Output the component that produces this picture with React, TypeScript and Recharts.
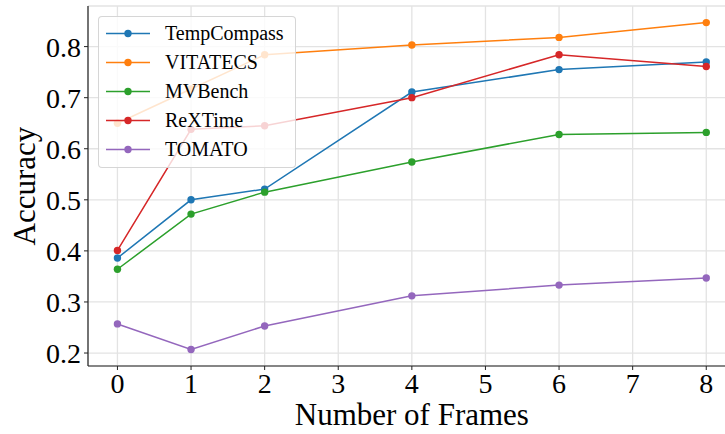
import React from 'react';
import { LineChart, Line, XAxis, YAxis, CartesianGrid, Legend } from 'recharts';

const frames = [0, 1, 2, 4, 6, 8];
const tempCompass = [0.386, 0.5, 0.521, 0.711, 0.755, 0.77];
const vitatecs = [0.65, 0.717, 0.784, 0.803, 0.818, 0.847];
const mvBench = [0.364, 0.472, 0.515, 0.574, 0.628, 0.632];
const rexTime = [0.401, 0.638, 0.645, 0.7, 0.784, 0.761];
const tomato = [0.257, 0.207, 0.253, 0.312, 0.333, 0.347];

const xTicks = [0, 1, 2, 3, 4, 5, 6, 7, 8];
const yTicks = [0.2, 0.3, 0.4, 0.5, 0.6, 0.7, 0.8];

const seriesNames = ['TempCompass', 'VITATECS', 'MVBench', 'ReXTime', 'TOMATO'];
const seriesKeys = ['tc', 'vt', 'mv', 'rx', 'tm'];
const seriesColors = ['#1f77b4', '#ff7f0e', '#2ca02c', '#d62728', '#9467bd'];
const seriesValues = [tempCompass, vitatecs, mvBench, rexTime, tomato];

const data = frames.map((f, i) => {
  const row: any = { frames: f };
  seriesKeys.forEach((k, j) => {
    row[k] = seriesValues[j][i];
  });
  return row;
});

const FONT = '"Liberation Serif", "Times New Roman", serif';

const YLabel = (props: any) => {
  const vb = props.viewBox || {};
  const cy = vb.y + vb.height / 2;
  const x = 35;
  return (
    <text
      x={x}
      y={cy}
      transform={`rotate(-90, ${x}, ${cy})`}
      textAnchor="middle"
      fontSize={31}
      fontFamily={FONT}
      fill="#000"
    >
      Accuracy
    </text>
  );
};

const renderLegend = () => (
  <div
    style={{
      width: 198,
      height: 152,
      boxSizing: 'border-box',
      background: 'rgba(255,255,255,0.8)',
      border: '1px solid rgba(204,204,204,0.8)',
      borderRadius: 4,
      paddingTop: 2,
      fontFamily: FONT,
    }}
  >
    {seriesNames.map((name, i) => (
      <div key={name} style={{ height: 29, display: 'flex', alignItems: 'center', position: 'relative' }}>
        <svg width={60} height={29} style={{ position: 'absolute', left: 0, top: 0 }}>
          <line x1={7} y1={14.5} x2={51} y2={14.5} stroke={seriesColors[i]} strokeWidth={1.5} />
          <circle cx={29} cy={14.5} r={3.7} fill={seriesColors[i]} />
        </svg>
        <span style={{ position: 'absolute', left: 66, fontSize: 20, color: '#000', lineHeight: '29px', top: 0 }}>
          {name}
        </span>
      </div>
    ))}
  </div>
);

export default function App() {
  return (
    <div style={{ position: 'absolute', left: 0, top: 0, width: 725, height: 434, overflow: 'hidden', background: '#fff' }}>
      <LineChart width={740} height={434} data={data} margin={{ top: 6, right: 4.3, bottom: 0, left: 0 }}>
        <CartesianGrid stroke="#e3e3e3" strokeWidth={1.3} />
        <XAxis
          dataKey="frames"
          type="number"
          domain={[-0.4, 8.4]}
          ticks={xTicks}
          allowDataOverflow
          height={68}
          tickSize={4}
          tickMargin={3}
          stroke="#222"
          tick={{ fill: '#000', fontSize: 28, fontFamily: FONT }}
          axisLine={{ stroke: '#222', strokeWidth: 1.2 }}
          tickLine={{ stroke: '#222' }}
          label={{ value: 'Number of Frames', position: 'insideBottom', offset: 9, fontSize: 31, fontFamily: FONT, fill: '#000' }}
        />
        <XAxis
          xAxisId="top"
          orientation="top"
          dataKey="frames"
          type="number"
          domain={[-0.4, 8.4]}
          height={0}
          tick={false}
          tickLine={false}
          axisLine={{ stroke: '#222', strokeWidth: 1.2 }}
        />
        <YAxis
          type="number"
          domain={[0.1746, 0.8795]}
          ticks={yTicks}
          allowDataOverflow
          width={88}
          tickSize={4}
          tickMargin={3}
          stroke="#222"
          tickFormatter={(v: number) => v.toFixed(1)}
          tick={{ fill: '#000', fontSize: 28, fontFamily: FONT }}
          axisLine={{ stroke: '#222', strokeWidth: 1.2 }}
          tickLine={{ stroke: '#222' }}
          label={<YLabel />}
        />
        <YAxis
          yAxisId="right"
          orientation="right"
          domain={[0.1746, 0.8795]}
          width={0}
          tick={false}
          tickLine={false}
          axisLine={{ stroke: '#222', strokeWidth: 1.2 }}
        />
        {seriesKeys.map((k, i) => (
          <Line
            key={k}
            dataKey={k}
            name={seriesNames[i]}
            stroke={seriesColors[i]}
            strokeWidth={1.5}
            dot={{ r: 3.7, fill: seriesColors[i], stroke: 'none' }}
            activeDot={false}
            isAnimationActive={false}
          />
        ))}
        <Legend
          content={renderLegend}
          layout="vertical"
          align="center"
          verticalAlign="middle"
          wrapperStyle={{ left: 98, top: 16, width: 198, height: 152 }}
        />
      </LineChart>
    </div>
  );
}
